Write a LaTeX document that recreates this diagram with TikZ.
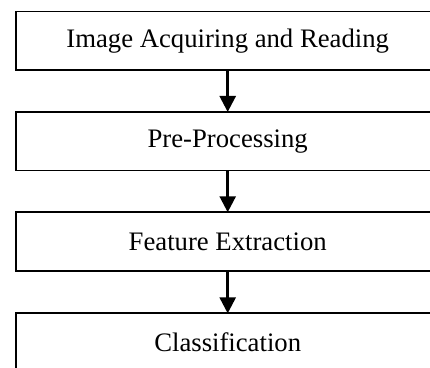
\documentclass[tikz,border=0pt]{standalone}
\usepackage{fontspec}
\setmainfont{Liberation Serif}
\usetikzlibrary{arrows.meta}
\begin{document}
\begin{tikzpicture}[x=1pt,y=1pt,
  stagebox/.style={draw=black, line width=1.8pt, rectangle, minimum width=423.4pt, minimum height=58.5pt, outer sep=0pt, inner sep=0pt, font=\fontsize{26.7}{32}\selectfont},
  flowarrow/.style={line width=2.6pt, -{Triangle[width=16pt,length=16pt]}}]
\useasboundingbox (0,0) rectangle (430,-367);
\clip (0,0) rectangle (430,-367);
\fill[white] (0,0) rectangle (430,-367);
\node[stagebox] (b1) at (227.7,-40.8) {Image Acquiring and Reading};
\node[stagebox] (b2) at (227.7,-141.2) {Pre-Processing};
\node[stagebox] (b3) at (227.7,-241.5) {Feature Extraction};
\node[stagebox] (b4) at (227.7,-342.6) {Classification};
\draw[flowarrow] (b1) -- (b2);
\draw[flowarrow] (b2) -- (b3);
\draw[flowarrow] (b3) -- (b4);
\end{tikzpicture}
\end{document}
